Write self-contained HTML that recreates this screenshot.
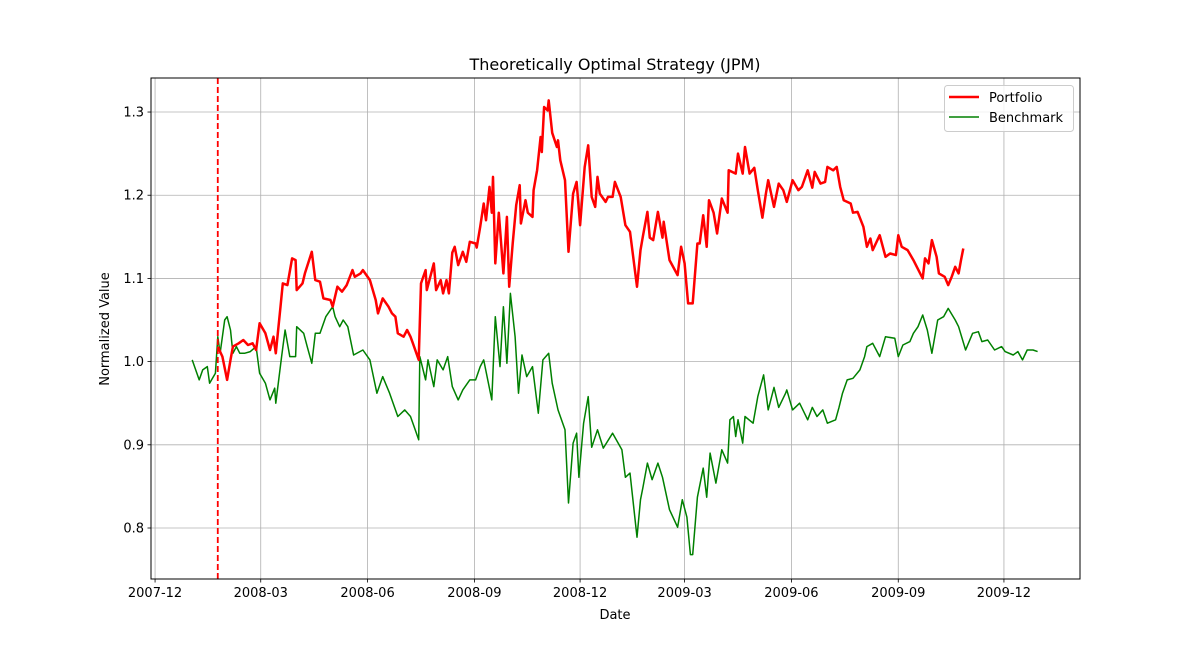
<!DOCTYPE html>
<html><head><meta charset="utf-8"><style>
html,body{margin:0;padding:0;background:#fff;}
svg text{font-family:"DejaVu Sans","Liberation Sans",sans-serif;fill:#000;}
</style></head><body>
<svg id="chart" width="1200" height="650" viewBox="0 0 1200 650" xmlns="http://www.w3.org/2000/svg">
<rect width="1200" height="650" fill="#fff"/>
<g id="grid"></g>
<g id="series"></g>
<rect x="151" y="78" width="929" height="501" fill="none" stroke="#000" stroke-width="1"/>
<g id="ticks"></g>
<text x="615" y="70" text-anchor="middle" font-size="16">Theoretically Optimal Strategy (JPM)</text>
<text x="615" y="619" text-anchor="middle" font-size="13">Date</text>
<text x="109" y="329" text-anchor="middle" font-size="13" transform="rotate(-90 109 329)">Normalized Value</text>
<g>
<rect x="944.5" y="85.5" width="129" height="46" rx="3" fill="#fff" fill-opacity="0.8" stroke="#ccc"/>
<g>
<line x1="949" y1="97" x2="979" y2="97" stroke="#ff0000" stroke-width="2.5"/>
<text x="989" y="102" font-size="13">Portfolio</text></g>
<g>
<line x1="949" y1="117" x2="979" y2="117" stroke="#008000" stroke-width="1.5"/>
<text x="989" y="122" font-size="13">Benchmark</text></g>
</g>
</svg>
<script>
// days since 2008-01-02
const benchDays=[0,3,6,9,13,15,20,22,24,28,30,33,35,38,41,45,50,55,58,63,67,71,72,77,80,84,89,90,96,99,103,106,110,115,121,123,127,130,134,139,147,153,159,164,170,177,183,188,192,195,196,201,203,208,211,216,220,224,229,233,239,244,248,251,258,261,265,268,271,274,278,281,284,288,293,298,302,307,310,315,321,324,328,331,333,337,341,344,349,354,362,370,373,377,383,386,388,392,396,401,405,411,418,422,426,429,431,435,440,443,446,451,456,461,463,466,468,470,474,476,483,487,492,496,501,505,511,512,517,523,530,534,538,543,547,554,557,560,564,569,575,579,581,586,592,597,605,608,612,618,621,625,629,633,637,642,647,651,657,660,666,672,677,680,685,691,697,700,707,711,715,719,724,728];
const benchVals=[1.002,.99,.978,.99,.994,.974,.986,1.03,1.01,1.05,1.054,1.038,1.01,1.018,1.01,1.01,1.012,1.018,.986,.974,.954,.968,.95,1.006,1.038,1.006,1.006,1.042,1.034,1.018,.998,1.034,1.034,1.054,1.066,1.054,1.042,1.05,1.042,1.008,1.014,1.002,.962,.982,.962,.934,.942,.934,.918,.906,1.006,.978,1.002,.97,1.002,.99,1.006,.97,.954,.966,.978,.978,.994,1.002,.954,1.054,.994,1.066,.998,1.082,1.03,.962,1.008,.982,.994,.938,1.002,1.01,.974,.942,.918,.83,.902,.914,.861,.926,.958,.897,.918,.896,.914,.894,.861,.866,.789,.834,.848,.878,.858,.878,.861,.822,.801,.834,.813,.768,.768,.837,.872,.837,.89,.854,.894,.878,.93,.934,.91,.93,.902,.934,.926,.958,.984,.942,.969,.945,.962,.966,.942,.95,.93,.945,.934,.942,.926,.93,.945,.962,.978,.98,.99,1.006,1.018,1.022,1.006,1.03,1.028,1.006,1.02,1.024,1.034,1.042,1.056,1.038,1.01,1.05,1.054,1.064,1.05,1.042,1.014,1.034,1.036,1.024,1.026,1.014,1.018,1.012,1.008,1.012,1.002,1.014,1.014,1.012];
const portDays=[22,26,30,33,35,40,44,48,52,55,58,63,67,70,72,76,78,82,86,89,90,95,97,103,106,110,113,119,121,125,129,133,138,140,145,147,153,158,160,164,169,172,175,177,182,185,188,190,195,197,201,202,208,210,214,216,219,221,224,226,229,233,236,239,244,245,248,251,253,256,258,259,261,264,268,271,273,276,279,282,283,287,289,293,294,297,300,301,303,306,307,310,314,315,317,321,324,328,331,334,338,341,344,347,349,351,356,358,362,364,369,373,377,383,386,388,392,394,397,401,405,406,411,418,421,424,427,431,435,437,440,443,445,449,452,456,461,462,468,470,474,476,480,484,487,491,494,496,501,505,509,512,517,522,525,530,534,536,541,545,547,552,555,558,561,567,569,573,578,581,584,586,592,597,601,606,608,611,616,621,624,629,631,634,637,641,643,648,651,654,657,660,662,664];
const portVals=[1.018,1.006,.978,1.002,1.018,1.022,1.026,1.02,1.022,1.014,1.046,1.034,1.014,1.03,1.01,1.066,1.094,1.092,1.124,1.122,1.086,1.094,1.106,1.132,1.098,1.096,1.076,1.074,1.066,1.09,1.084,1.092,1.11,1.102,1.106,1.11,1.098,1.074,1.058,1.076,1.066,1.058,1.054,1.034,1.03,1.038,1.03,1.022,1.002,1.094,1.11,1.086,1.118,1.086,1.098,1.082,1.098,1.082,1.131,1.138,1.116,1.132,1.12,1.144,1.142,1.137,1.162,1.19,1.17,1.21,1.179,1.222,1.118,1.179,1.106,1.174,1.09,1.142,1.188,1.212,1.166,1.194,1.179,1.174,1.206,1.23,1.27,1.252,1.306,1.302,1.314,1.275,1.258,1.266,1.242,1.218,1.132,1.202,1.216,1.164,1.234,1.26,1.198,1.186,1.222,1.202,1.192,1.198,1.198,1.216,1.198,1.164,1.156,1.09,1.134,1.15,1.18,1.149,1.146,1.18,1.149,1.168,1.122,1.104,1.138,1.118,1.07,1.07,1.142,1.142,1.176,1.138,1.194,1.179,1.154,1.196,1.179,1.23,1.226,1.25,1.226,1.258,1.226,1.233,1.206,1.173,1.202,1.218,1.186,1.214,1.206,1.192,1.218,1.206,1.21,1.23,1.209,1.228,1.214,1.216,1.234,1.23,1.234,1.21,1.194,1.19,1.179,1.18,1.162,1.138,1.148,1.134,1.152,1.126,1.13,1.128,1.152,1.138,1.134,1.122,1.114,1.1,1.124,1.118,1.146,1.126,1.106,1.102,1.092,1.102,1.114,1.106,1.122,1.136];
const yTicks=[0.8,0.9,1.0,1.1,1.2,1.3];
const xTickLabels=["2007-12","2008-03","2008-06","2008-09","2008-12","2009-03","2009-06","2009-09","2009-12"];
const markerDay=22;

const NS="http://www.w3.org/2000/svg";
const X0=151,X1=1080,Y0=78,Y1=579;
const dMin=-35.5,dMax=764.5,vMin=0.7387,vMax=1.3409;
const xs=d=>X0+(d-dMin)/(dMax-dMin)*(X1-X0);
const ys=v=>Y1-(v-vMin)/(vMax-vMin)*(Y1-Y0);
const base=Date.UTC(2008,0,2);
const labelDay=s=>{const [y,m]=s.split("-").map(Number);return (Date.UTC(y,m-1,1)-base)/86400000;};
function mk(t,a,p){const e=document.createElementNS(NS,t);for(const k in a)e.setAttribute(k,a[k]);p.appendChild(e);return e;}
const grid=document.getElementById("grid"),ticks=document.getElementById("ticks"),ser=document.getElementById("series");
yTicks.forEach(v=>{const y=ys(v);
 const g=mk("line",{x1:X0,x2:X1,y1:y,y2:y,stroke:"#b0b0b0","stroke-width":0.8},grid);
 
 
 mk("line",{x1:X0-3.5,x2:X0,y1:y,y2:y,stroke:"#000","stroke-width":0.8},ticks);
 const t=mk("text",{x:X0-7,y:y+4.5,"text-anchor":"end","font-size":13},ticks);t.textContent=v.toFixed(1);
 
 
});
xTickLabels.forEach(s=>{const x=xs(labelDay(s));
 const g=mk("line",{x1:x,x2:x,y1:Y0,y2:Y1,stroke:"#b0b0b0","stroke-width":0.8},grid);
 
 
 mk("line",{x1:x,x2:x,y1:Y1,y2:Y1+3.5,stroke:"#000","stroke-width":0.8},ticks);
 const t=mk("text",{x:x,y:Y1+18,"text-anchor":"middle","font-size":13},ticks);t.textContent=s;
 
 
});
const pts=(D,V)=>D.map((d,i)=>xs(d).toFixed(1)+","+ys(V[i]).toFixed(1)).join(" ");
const b=mk("polyline",{points:pts(benchDays,benchVals),fill:"none",stroke:"#008000","stroke-width":1.5,"stroke-linejoin":"round"},ser);


const p=mk("polyline",{points:pts(portDays,portVals),fill:"none",stroke:"#ff0000","stroke-width":2.5,"stroke-linejoin":"round"},ser);


const mx=xs(markerDay);
const m=mk("line",{x1:mx,x2:mx,y1:Y0,y2:Y1,stroke:"#ff0000","stroke-width":1.8,"stroke-dasharray":"6,3"},ser);


</script>
</body></html>
